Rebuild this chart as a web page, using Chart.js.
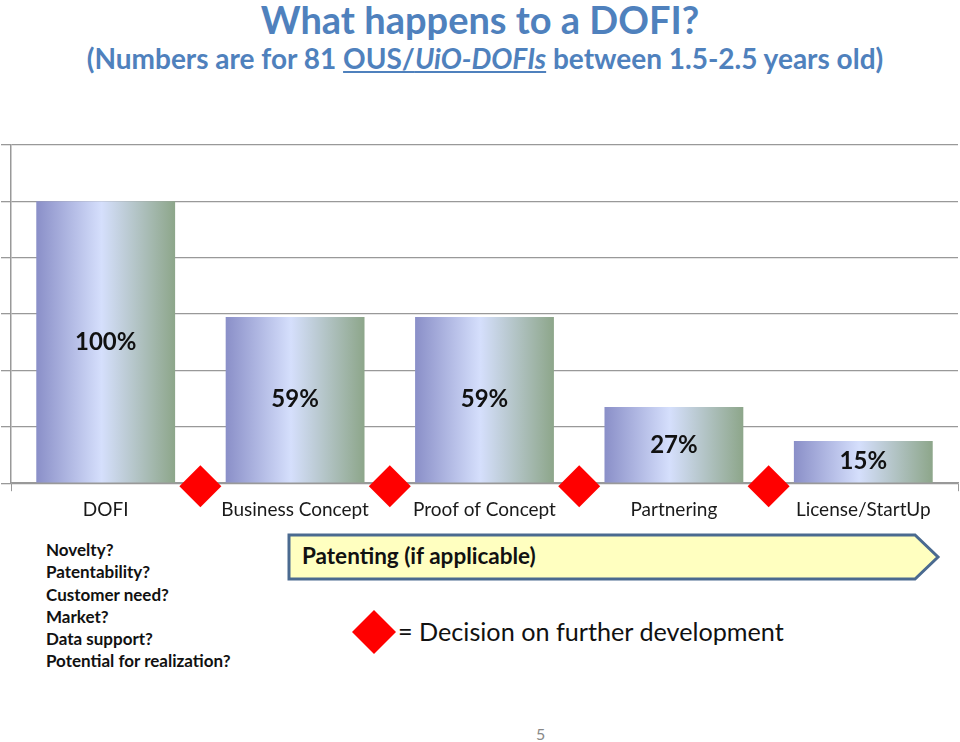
<!DOCTYPE html>
<html>
<head>
<meta charset="utf-8">
<script src="https://cdn.jsdelivr.net/npm/chart.js@4.4.0/dist/chart.umd.min.js"></script>
<style>
  body { margin: 0; width: 960px; height: 742px; background: #fff; font-family: Lato, "Open Sans", sans-serif; position: relative; overflow: hidden; }
  .title { position: absolute; left: 0; width: 960px; text-align: center; color: #4f81bd; font-weight: bold; }
  #t1 { top: -4px; font-size: 38px; }
  #t2 { top: 41px; left: 5px; font-size: 28px; }
  #wrap { position: absolute; left: 0; top: 130px; width: 960px; height: 400px; }
  #questions { position: absolute; left: 46px; top: 539px; font-size: 17px; font-weight: bold; line-height: 22.3px; color: #111; }
  #arrow { position: absolute; left: 286px; top: 532px; }
  #arrowText { position: absolute; left: 302px; top: 542px; font-size: 22.5px; font-weight: bold; color: #111; }
  #legDiamond { position: absolute; left: 352px; top: 610px; }
  #legText { position: absolute; left: 398px; top: 616px; font-size: 25.2px; color: #111; }
  #page { position: absolute; left: 536px; top: 724px; font-size: 16px; color: #888; }
</style>
</head>
<body>
<div class="title" id="t1">What happens to a DOFI?</div>
<div class="title" id="t2">(Numbers are for 81 <u>OUS/<i>UiO-DOFIs</i></u> between 1.5-2.5 years old)</div>
<div id="wrap"><canvas id="bar-chart"></canvas></div>
<div id="questions">Novelty?<br>Patentability?<br>Customer need?<br>Market?<br>Data support?<br>Potential for realization?</div>
<svg id="arrow" width="660" height="54"><polygon points="3,3 629,3 652,25 629,47 3,47" fill="#ffffc0" stroke="#4a6a90" stroke-width="3"/></svg>
<div id="arrowText">Patenting (if applicable)</div>
<svg id="legDiamond" width="46" height="46"><polygon points="22,0 44,22 22,44 0,22" fill="#ff0000"/></svg>
<div id="legText">= Decision on further development</div>
<div id="page">5</div>
<script>
var stages = ["DOFI", "Business Concept", "Proof of Concept", "Partnering", "License/StartUp"];
var percents = [100, 59, 59, 27, 15];
// decision diamonds sit between these stage pairs (index of the stage before)
var decisionAfter = [0, 1, 2, 3];
var barPct = 0.733;

var barLabels = {
    id: 'barLabels',
    afterDatasetsDraw: function(chart) {
        var meta = chart.getDatasetMeta(0);
        var c = chart.ctx;
        c.save();
        c.font = 'bold 24px Lato';
        c.fillStyle = '#111';
        c.textAlign = 'center';
        c.textBaseline = 'middle';
        meta.data.forEach(function(el, i) {
            c.fillText(percents[i] + '%', el.x, (el.y + el.base) / 2);
        });

        // red decision diamonds on the axis, between stages
        var x = chart.scales.x, y = chart.scales.y;
        var r = 21;
        c.fillStyle = '#ff0000';
        decisionAfter.forEach(function(i) {
            var cx = (x.getPixelForValue(i) + x.getPixelForValue(i + 1)) / 2;
            var cy = y.getPixelForValue(0) + 3;
            c.beginPath();
            c.moveTo(cx, cy - r);
            c.lineTo(cx + r, cy);
            c.lineTo(cx, cy + r);
            c.lineTo(cx - r, cy);
            c.closePath();
            c.fill();
        });
        c.restore();
    }
};

function barFill(ctx) {
    var chart = ctx.chart;
    if (!chart.chartArea || ctx.dataIndex === undefined) return '#b0b8e0';
    var x = chart.scales.x;
    var bw = x.width / stages.length * barPct;
    var cx = x.getPixelForValue(ctx.dataIndex);
    var g = chart.ctx.createLinearGradient(cx - bw / 2, 0, cx + bw / 2, 0);
    g.addColorStop(0, 'rgb(138,143,200)');
    g.addColorStop(0.47, 'rgb(213,223,252)');
    g.addColorStop(1, 'rgb(141,166,138)');
    return g;
}

new Chart(document.getElementById("bar-chart"), {
    type: 'bar',
    data: {
        labels: stages,
        datasets: [
            {
                data: percents,
                backgroundColor: barFill,
                borderWidth: 0,
                categoryPercentage: 1,
                barPercentage: barPct
            }
        ]
    },
    options: {
        responsive: true,
        maintainAspectRatio: false,
        animation: false,
        layout: { padding: { top: 15, left: 1, right: 2, bottom: 2 } },
        plugins: {
            legend: { display: false },
            tooltip: { enabled: false }
        },
        scales: {
            x: {
                grid: { drawOnChartArea: false, tickLength: 8, color: '#999' },
                border: { color: '#999', width: 1.5 },
                ticks: { color: '#1a1a1a', font: { family: 'Lato', size: 19 }, padding: 7 }
            },
            y: {
                min: 0,
                max: 120,
                ticks: { stepSize: 20, display: false },
                grid: { color: '#999', lineWidth: 1.3, tickLength: 10 },
                border: { color: '#999', width: 1.5 }
            }
        }
    },
    plugins: [barLabels]
});
</script>
</body>
</html>
